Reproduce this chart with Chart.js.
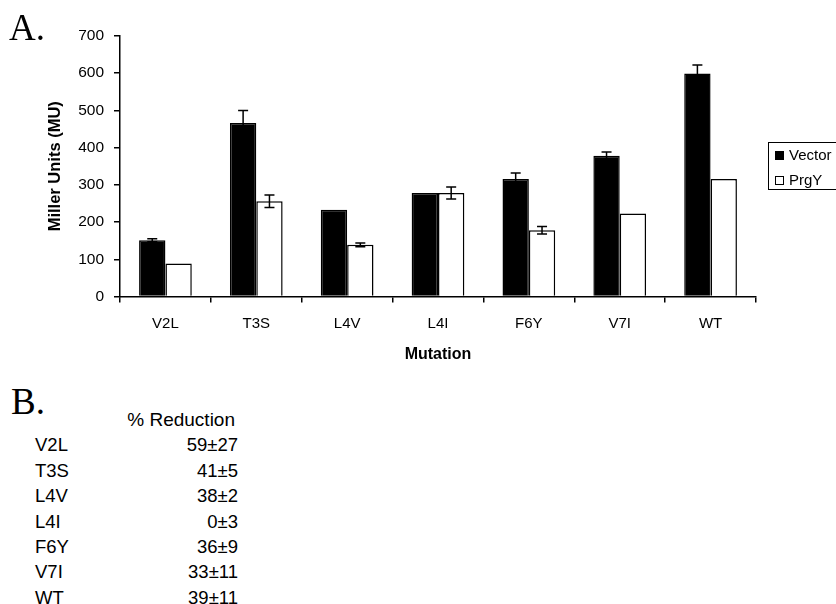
<!DOCTYPE html>
<html>
<head>
<meta charset="utf-8">
<script src="https://cdn.jsdelivr.net/npm/chart.js@4"></script>
<style>
    body { margin: 0; background: #fff; font-family: "Liberation Sans", Arial, sans-serif; color: #000; }
    #wrap { position: relative; width: 836px; height: 604px; overflow: hidden; }
    #grafico { position: absolute; left: 0; top: 0; }
    .painel { position: absolute; font-family: "Liberation Serif", "Times New Roman", serif; font-size: 37px; line-height: 1; }
    #legenda { position: absolute; left: 768px; top: 142px; width: 90px; height: 46px; border: 1px solid #000; font-size: 15px; }
    #legenda div { position: absolute; left: 20px; height: 16px; line-height: 16px; white-space: nowrap; }
    #legenda span { position: absolute; left: -14px; top: 4px; width: 7px; height: 7px; border: 1px solid #000; }
    #tabela { position: absolute; left: 0; top: 407px; font-size: 18.5px; }
    #tabela div { position: relative; height: 25.4px; line-height: 25.4px; width: 240px; }
    #tabela .rot { position: absolute; left: 35px; }
    #tabela .val { position: absolute; right: 2px; }
    #tabela .cab { position: absolute; right: 5px; font-size: 19px; }
</style>
</head>
<body>
<div id="wrap">
    <canvas id="grafico" width="836" height="370"></canvas>
    <div class="painel" style="left:9px; top:9px;">A.</div>
    <div class="painel" style="left:11px; top:383px;">B.</div>
    <div id="legenda"></div>
    <div id="tabela"></div>
</div>
<script>
// Dados
const mutacoes = ['V2L', 'T3S', 'L4V', 'L4I', 'F6Y', 'V7I', 'WT'];
const vetor = [151, 466, 233, 278, 316, 378, 599];
const vetorErro = [4, 34, 0, 0, 16, 10, 23];
const prgY = [89, 256, 139, 278, 178, 223, 316];
const prgYErro = [0, 17, 5, 16, 10, 0, 0];
const ticksY = [0, 100, 200, 300, 400, 500, 600, 700];
const reducao = ['59±27', '41±5', '38±2', '0±3', '36±9', '33±11', '39±11'];

// Barras de erro desenhadas com as escalas do gráfico
const barrasErro = {
    id: 'barrasErro',
    afterDatasetsDraw(chart) {
        const ctx = chart.ctx;
        const y = chart.scales.y;
        chart.data.datasets.forEach((ds, i) => {
            const meta = chart.getDatasetMeta(i);
            meta.data.forEach((bar, j) => {
                const e = ds.erros[j];
                if (!e) return;
                const topo = y.getPixelForValue(ds.data[j] + e);
                const base = y.getPixelForValue(ds.data[j] - e);
                ctx.save();
                ctx.strokeStyle = '#000';
                ctx.lineWidth = 1.5;
                ctx.beginPath();
                ctx.moveTo(bar.x, topo); ctx.lineTo(bar.x, base);
                ctx.moveTo(bar.x - 5, topo); ctx.lineTo(bar.x + 5, topo);
                ctx.moveTo(bar.x - 5, base); ctx.lineTo(bar.x + 5, base);
                ctx.stroke();
                ctx.restore();
            });
        });
    }
};

const fonte = 'Liberation Sans, Arial, sans-serif';
const ctx = document.getElementById('grafico').getContext('2d');
const grafico = new Chart(ctx, {
    type: 'bar',
    data: {
        labels: mutacoes,
        datasets: [
            { label: 'Vector', data: vetor, erros: vetorErro, backgroundColor: '#000', borderColor: '#000', borderWidth: 1.5 },
            { label: 'PrgY', data: prgY, erros: prgYErro, backgroundColor: '#fff', borderColor: '#000', borderWidth: 1.5 }
        ]
    },
    options: {
        responsive: false,
        animation: false,
        layout: { padding: { top: 36, right: 80, left: 0, bottom: 0 } },
        datasets: { bar: { categoryPercentage: 0.58, barPercentage: 1.0 } },
        plugins: { legend: { display: false }, tooltip: { enabled: false } },
        scales: {
            x: {
                grid: { display: true, drawOnChartArea: false, color: '#000', lineWidth: 1.5, tickLength: 6 },
                border: { color: '#000', width: 1.5 },
                ticks: { color: '#000', font: { family: fonte, size: 15 }, padding: 12, maxRotation: 0 },
                title: { display: true, text: 'Mutation', color: '#000', font: { family: fonte, size: 16, weight: 'bold' }, padding: { bottom: 6 } },
                afterFit: s => { s.height = 73.5; }
            },
            y: {
                min: 0, max: 700,
                afterBuildTicks: s => { s.ticks = ticksY.map(v => ({ value: v })); },
                grid: { display: true, drawOnChartArea: false, color: '#000', lineWidth: 1.5, tickLength: 6 },
                border: { color: '#000', width: 1.5 },
                ticks: { color: '#000', font: { family: fonte, size: 15.5 }, padding: 10 },
                title: { display: true, text: 'Miller Units (MU)', color: '#000', font: { family: fonte, size: 16.5, weight: 'bold' }, padding: { top: 46 } },
                afterFit: s => { s.width = 120; }
            }
        }
    },
    plugins: [barrasErro]
});

// Legenda em HTML
const legenda = document.getElementById('legenda');
grafico.data.datasets.forEach((ds, i) => {
    const item = document.createElement('div');
    item.style.top = (4 + i * 25) + 'px';
    item.innerHTML = '<span style="background:' + ds.backgroundColor + '"></span>' + ds.label;
    legenda.appendChild(item);
});

// Tabela B
const tabela = document.getElementById('tabela');
tabela.innerHTML = '<div><span class="cab">% Reduction</span></div>' +
    mutacoes.map((m, i) => '<div><span class="rot">' + m + '</span><span class="val">' + reducao[i] + '</span></div>').join('');
</script>
</body>
</html>
